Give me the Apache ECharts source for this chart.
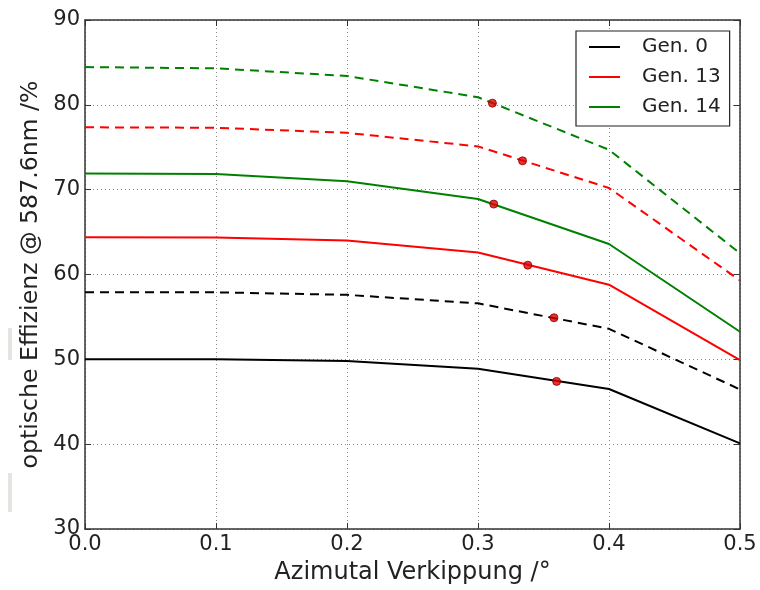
<!DOCTYPE html>
<html>
<head>
<meta charset="utf-8">
<script src="https://cdn.jsdelivr.net/npm/echarts@6/dist/echarts.min.js"></script>
<style>html,body{margin:0;padding:0;background:#fff;}#c{width:760px;height:590px;}</style>
</head>
<body>
<div id="c"></div>
<script>
// x positions (Azimutal Verkippung /°)
const xValues = [0.0, 0.1, 0.2, 0.3, 0.4, 0.5];
// solid lines
const gen0Solid  = [50.0, 50.0, 49.8, 48.9, 46.5, 40.1];
const gen13Solid = [64.4, 64.35, 64.0, 62.6, 58.8, 49.9];
const gen14Solid = [71.9, 71.85, 71.0, 68.9, 63.6, 53.25];
// dashed lines
const gen0Dashed  = [57.9, 57.9, 57.6, 56.6, 53.6, 46.45];
const gen13Dashed = [77.35, 77.3, 76.7, 75.1, 70.2, 59.3];
const gen14Dashed = [84.45, 84.3, 83.4, 80.9, 74.7, 62.5];
// red marker points [x, y]
const markerX = [0.311, 0.334, 0.312, 0.338, 0.358, 0.360];
const markerY = [80.2, 73.4, 68.3, 61.1, 54.9, 47.4];
const legendNames = ['Gen. 0', 'Gen. 13', 'Gen. 14'];

const font = 'DejaVu Sans';
const pair = (ys) => xValues.map((x, i) => [x, ys[i]]);
const lineSeries = (name, ys, color, dashed) => ({
  name: name, type: 'line', data: pair(ys), showSymbol: false, symbol: 'none',
  lineStyle: { color: color, width: 2, type: dashed ? [9, 6] : 'solid' },
  itemStyle: { color: color }, z: 3, silent: true, animation: false
});

const chart = echarts.init(document.getElementById('c'), null, { renderer: 'canvas' });
const axisCommon = {
  axisLine: { show: true, onZero: false, lineStyle: { color: '#333', width: 1.5 } },
  axisTick: { show: true, inside: true, length: 6, lineStyle: { color: '#333' } },
  splitLine: { show: false }
};
chart.setOption({
  animation: false,
  backgroundColor: '#fff',
  grid: { left: 85, right: 20, top: 20, bottom: 61, show: false, containLabel: false, outerBoundsMode: 'none' },
  legend: {
    data: legendNames.map(n => ({ name: n, icon: 'rect' })),
    orient: 'vertical', left: 576, top: 31,
    itemWidth: 31, itemHeight: 2, itemGap: 10,
    padding: [6, 9, 9, 13],
    borderColor: '#222', borderWidth: 1.2, backgroundColor: '#fff',
    textStyle: { fontFamily: font, fontSize: 20, color: '#222', padding: [0, 0, 0, 17] }
  },
  graphic: [
    { type: 'rect', shape: { x: 8, y: 328, width: 4, height: 32 }, style: { fill: '#e4e4e0' }, silent: true },
    { type: 'rect', shape: { x: 8, y: 473, width: 4, height: 39 }, style: { fill: '#e4e4e0' }, silent: true }
  ],
  xAxis: [{
    type: 'value', min: 0, max: 0.5, interval: 0.1, position: 'bottom',
    name: 'Azimutal Verkippung /°', nameLocation: 'middle', nameGap: 32,
    nameTextStyle: { fontFamily: font, fontSize: 24, color: '#222' },
    axisLabel: { fontFamily: font, fontSize: 21, color: '#222', margin: 5,
      formatter: v => v.toFixed(1) },
    ...axisCommon,
    splitLine: { show: true, lineStyle: { color: '#888', type: [1, 3], width: 1 } }
  }, {
    type: 'value', min: 0, max: 0.5, interval: 0.1, position: 'top',
    axisLabel: { show: false }, ...axisCommon
  }],
  yAxis: [{
    type: 'value', min: 30, max: 90, interval: 10, position: 'left',
    name: 'optische Effizienz @ 587.6nm /%', nameLocation: 'middle', nameGap: 40,
    nameTextStyle: { fontFamily: font, fontSize: 23.6, color: '#222' },
    axisLabel: { fontFamily: font, fontSize: 21, color: '#222', margin: 5 },
    ...axisCommon,
    splitLine: { show: true, lineStyle: { color: '#888', type: [1, 3], width: 1 } }
  }, {
    type: 'value', min: 30, max: 90, interval: 10, position: 'right',
    axisLabel: { show: false }, ...axisCommon
  }],
  series: [
    lineSeries('Gen. 0', gen0Solid, '#000000', false),
    lineSeries('Gen. 13', gen13Solid, '#ff0000', false),
    lineSeries('Gen. 14', gen14Solid, '#008000', false),
    lineSeries('Gen. 0 d', gen0Dashed, '#000000', true),
    lineSeries('Gen. 13 d', gen13Dashed, '#ff0000', true),
    lineSeries('Gen. 14 d', gen14Dashed, '#008000', true),
    {
      name: 'marker', type: 'scatter', data: markerX.map((x, i) => [x, markerY[i]]),
      symbol: 'circle', symbolSize: 8, z: 5,
      itemStyle: { color: '#e00000', borderColor: '#8b0000', borderWidth: 1 }
    }
  ]
});
</script>
</body>
</html>
